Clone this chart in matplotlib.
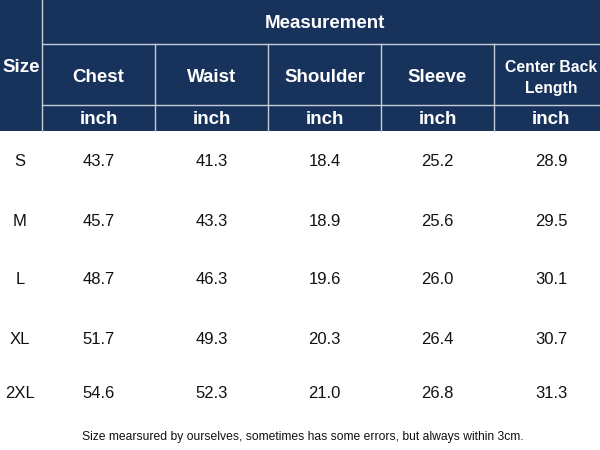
import matplotlib.pyplot as plt
from matplotlib.patches import Rectangle

# -----------------------
# Table data
# -----------------------
sizes = ["S", "M", "L", "XL", "2XL"]
columns = ["Chest", "Waist", "Shoulder", "Sleeve", "Center Back\nLength"]
units = ["inch"] * 5
chest = [43.7, 45.7, 48.7, 51.7, 54.6]
waist = [41.3, 43.3, 46.3, 49.3, 52.3]
shoulder = [18.4, 18.9, 19.6, 20.3, 21.0]
sleeve = [25.2, 25.6, 26.0, 26.4, 26.8]
center_back = [28.9, 29.5, 30.1, 30.7, 31.3]
note = "Size mearsured by ourselves, sometimes has some errors, but always within 3cm."

navy = "#17335b"
grid = "#c5cdd8"
font = ["Liberation Sans", "DejaVu Sans"]

# layout in pixels (600 x 450 canvas); last column runs past the right edge
col_edges = [0, 42, 155, 268, 381, 494, 608]
row_y = [162, 221, 280, 339, 394]
header_h = 131

fig = plt.figure(figsize=(6, 4.5), dpi=100)
ax = fig.add_axes([0, 0, 1, 1])
ax.set_xlim(0, 600)
ax.set_ylim(450, 0)
ax.axis("off")

# header block
ax.add_patch(Rectangle((0, 0), 600, header_h, facecolor=navy, edgecolor="none"))
ax.plot([42, 600], [44, 44], color=grid, lw=1)
ax.plot([42, 600], [105, 105], color=grid, lw=1)
ax.plot([42, 42], [0, header_h], color=grid, lw=1)
for x in col_edges[2:-1]:
    ax.plot([x, x], [44, header_h], color=grid, lw=1)

ax.text(21, 68, "Size", color="white", fontsize=13.5, fontweight="bold",
        ha="center", va="center", family=font)
ax.text(325, 24, "Measurement", color="white", fontsize=13.5, fontweight="bold",
        ha="center", va="center", family=font)

centers = [(col_edges[i] + col_edges[i + 1]) / 2 for i in range(1, 6)]
for cx, name, unit in zip(centers, columns, units):
    fs = 11.3 if "\n" in name else 13.5
    ax.text(cx, 78, name, color="white", fontsize=fs, fontweight="bold",
            ha="center", va="center", family=font, linespacing=1.5)
    ax.text(cx, 120, unit, color="white", fontsize=13.5, fontweight="bold",
            ha="center", va="center", family=font)

# body
values = [chest, waist, shoulder, sleeve, center_back]
for i, y in enumerate(row_y):
    ax.text(20, y, sizes[i], fontsize=12, ha="center", va="center",
            family=font, color="#111111")
    for cx, col in zip(centers, values):
        ax.text(cx, y, f"{col[i]:.1f}", fontsize=12, ha="center", va="center",
                family=font, color="#111111")

ax.text(303, 437, note, fontsize=8.7, ha="center", va="center",
        family=font, color="#111111")

fig.savefig("out.png", dpi=100)
